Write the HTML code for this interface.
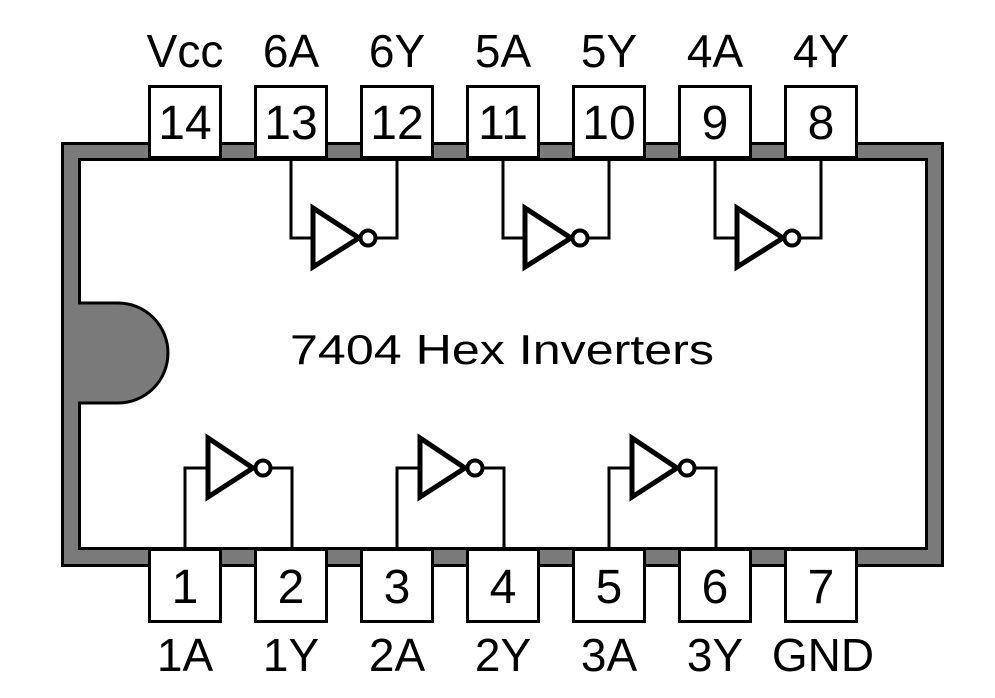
<!DOCTYPE html>
<html><head><style>html,body{margin:0;padding:0;background:#fff}svg{display:block}text{font-family:"Liberation Sans",Arial,sans-serif;fill:#000}</style></head>
<body>
<svg width="995" height="698" viewBox="0 0 995 698" xmlns="http://www.w3.org/2000/svg">
<rect x="62.5" y="143.5" width="880" height="422" fill="#7a7a7a" stroke="#000" stroke-width="3"/>
<rect x="79.5" y="159.5" width="847" height="389" fill="#fff" stroke="#000" stroke-width="3"/>
<path d="M79.5 303 L118 303 A50 50 0 0 1 118 403 L79.5 403 Z" fill="#7a7a7a" stroke="#000" stroke-width="3"/>
<rect x="64" y="304.5" width="18" height="97" fill="#7a7a7a"/>
<g fill="#fff" stroke="#000" stroke-width="3">
<rect x="149.5" y="86.5" width="71" height="71"/><rect x="255.5" y="86.5" width="71" height="71"/><rect x="361.5" y="86.5" width="71" height="71"/><rect x="467.5" y="86.5" width="71" height="71"/><rect x="573.5" y="86.5" width="71" height="71"/><rect x="679.5" y="86.5" width="71" height="71"/><rect x="785.5" y="86.5" width="71" height="71"/>
<rect x="149.5" y="549.5" width="71" height="72"/><rect x="255.5" y="549.5" width="71" height="72"/><rect x="361.5" y="549.5" width="71" height="72"/><rect x="467.5" y="549.5" width="71" height="72"/><rect x="573.5" y="549.5" width="71" height="72"/><rect x="679.5" y="549.5" width="71" height="72"/><rect x="785.5" y="549.5" width="71" height="72"/>
</g>
<g font-size="48" text-anchor="middle">
<text x="185" y="139">14</text><text x="291" y="139">13</text><text x="397" y="139">12</text><text x="503" y="139">11</text><text x="609" y="139">10</text><text x="715" y="139">9</text><text x="821" y="139">8</text>
<text x="185" y="603">1</text><text x="291" y="603">2</text><text x="397" y="603">3</text><text x="503" y="603">4</text><text x="609" y="603">5</text><text x="715" y="603">6</text><text x="821" y="603">7</text>
</g>
<g font-size="46" text-anchor="middle">
<text x="185" y="67">Vcc</text><text x="291" y="67">6A</text><text x="397" y="67">6Y</text><text x="503" y="67">5A</text><text x="609" y="67">5Y</text><text x="715" y="67">4A</text><text x="821" y="67">4Y</text>
<text x="185" y="671">1A</text><text x="291" y="671">1Y</text><text x="397" y="671">2A</text><text x="503" y="671">2Y</text><text x="609" y="671">3A</text><text x="715" y="671">3Y</text><text x="823" y="671">GND</text>
</g>
<text x="502" y="364" font-size="42" text-anchor="middle" textLength="424" lengthAdjust="spacingAndGlyphs">7404 Hex Inverters</text>
<defs>
<g id="gt">
<polyline points="291,159 291,238 312,238" fill="none" stroke="#000" stroke-width="3"/>
<polyline points="377,238 397,238 397,159" fill="none" stroke="#000" stroke-width="3"/>
<polygon points="313,208 359,238 313,267" fill="none" stroke="#000" stroke-width="5"/>
<circle cx="368" cy="238" r="7.5" fill="#fff" stroke="#000" stroke-width="4"/>
</g>
<g id="gb">
<polyline points="185,548 185,468 206,468" fill="none" stroke="#000" stroke-width="3"/>
<polyline points="271,468 292,468 292,548" fill="none" stroke="#000" stroke-width="3"/>
<polygon points="208,438 253,468 208,497" fill="none" stroke="#000" stroke-width="5"/>
<circle cx="263" cy="468" r="7.5" fill="#fff" stroke="#000" stroke-width="4"/>
</g>
</defs>
<use href="#gt"/><use href="#gt" x="212"/><use href="#gt" x="424"/>
<use href="#gb"/><use href="#gb" x="212"/><use href="#gb" x="424"/>
</svg>
</body></html>
